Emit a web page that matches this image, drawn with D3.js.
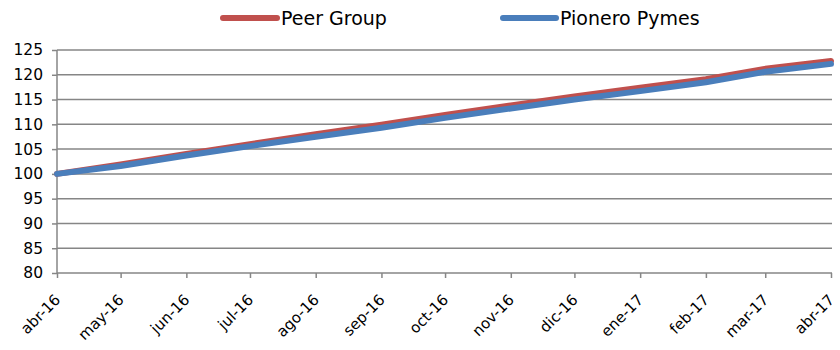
<!DOCTYPE html>
<html><head><meta charset="utf-8">
<script src="https://cdn.jsdelivr.net/npm/d3@7"></script>
<style>body{margin:0;background:#fff}svg{display:block}text{font-family:"DejaVu Sans",sans-serif}</style>
</head><body>
<svg id="c" width="840" height="350"></svg>
<script>
const months = ["2016-04-01","2016-05-01","2016-06-01","2016-07-01","2016-08-01","2016-09-01","2016-10-01","2016-11-01","2016-12-01","2017-01-01","2017-02-01","2017-03-01","2017-04-01"];
const tickLabels = ["abr-16","may-16","jun-16","jul-16","ago-16","sep-16","oct-16","nov-16","dic-16","ene-17","feb-17","mar-17","abr-17"];
const peerGroup = [100, 101.9, 104.0, 106.0, 108.0, 109.9, 111.9, 113.8, 115.6, 117.4, 119.1, 121.2, 122.8];
const pioneroPymes = [100, 101.6, 103.7, 105.6, 107.5, 109.3, 111.3, 113.2, 115.0, 116.7, 118.5, 120.6, 122.2];
const seriesNames = ["Peer Group", "Pionero Pymes"];
const seriesColors = ["#C0504D", "#4A7EBB"];
const yTicks = [80,85,90,95,100,105,110,115,120,125];

const parse = d3.timeParse("%Y-%m-%d");
const dates = months.map(parse);
const svg = d3.select("#c");
const x = d3.scaleTime().domain([dates[0], dates[dates.length-1]]).range([57, 831]);
const y = d3.scaleLinear().domain([80,125]).range([273, 50]);

// gridlines
svg.append("g").selectAll("line").data(yTicks.filter(d=>d>80)).join("line")
  .attr("x1",57).attr("x2",832).attr("y1",d=>y(d)).attr("y2",d=>y(d))
  .attr("stroke","#868686").attr("stroke-width",1.5);

// y axis
const ya = svg.append("g").attr("transform","translate(57,0)")
  .call(d3.axisLeft(y).tickValues(yTicks).tickSize(5).tickPadding(6));
ya.select(".domain").attr("stroke","#868686").attr("stroke-width",1.5).attr("d","M0,50V273");
ya.selectAll(".tick line").attr("stroke","#868686").attr("stroke-width",1.5);
ya.selectAll("text").attr("font-size",15.5).attr("fill","#000").attr("dx","-3");

// x axis
const xa = svg.append("g").attr("transform","translate(0,273)")
  .call(d3.axisBottom(x).tickValues(dates).tickFormat((d,i)=>tickLabels[i]).tickSize(5).tickSizeOuter(0));
xa.select(".domain").attr("stroke","#868686").attr("stroke-width",1.5).attr("d","M57,0H832");
xa.selectAll(".tick line").attr("stroke","#868686").attr("stroke-width",1.5);
xa.selectAll("text").attr("font-size",15).attr("fill","#000")
  .attr("text-anchor","end").attr("x",0).attr("y",0).attr("dy","0.35em")
  .attr("transform","translate(0,24) rotate(-45)");

// lines
const line = d3.line().x((d,i)=>x(dates[i])).y(d=>y(d));
[peerGroup, pioneroPymes].forEach((s,k)=>{
  svg.append("path").datum(s).attr("d",line).attr("fill","none")
    .attr("stroke",seriesColors[k]).attr("stroke-width",6).attr("stroke-linecap","round").attr("stroke-linejoin","round");
});

// legend
const lg = [{x1:223,x2:277,tx:281},{x1:503,x2:556,tx:560}];
lg.forEach((l,k)=>{
  svg.append("line").attr("x1",l.x1).attr("x2",l.x2).attr("y1",18).attr("y2",18)
    .attr("stroke",seriesColors[k]).attr("stroke-width",6).attr("stroke-linecap","round");
  svg.append("text").attr("x",l.tx).attr("y",25).attr("font-size",19).attr("fill","#000").text(seriesNames[k]);
});
</script>
</body></html>
